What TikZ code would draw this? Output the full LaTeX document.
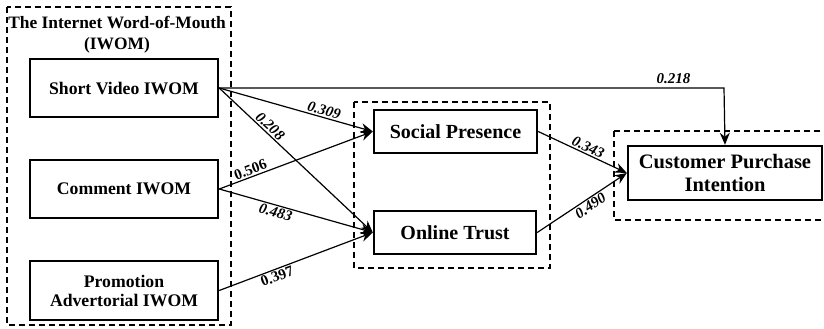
\documentclass[tikz,border=0pt]{standalone}
\usepackage{fontspec}
\setmainfont{Liberation Serif}
\usetikzlibrary{arrows.meta}

\tikzset{
    varbox/.style={draw, line width=2.4pt, font=\bfseries\fontsize{17.7}{19}\selectfont, align=center, inner sep=0pt},
    groupbox/.style={draw, dashed, line width=1.3pt, dash pattern=on 6pt off 4pt},
    path/.style={line width=1.2pt, -{Stealth[length=12pt, width=10pt]}},
    coef/.style={font=\bfseries\itshape\fontsize{15}{16}\selectfont, sloped, inner sep=1.5pt},
    coefup/.style={font=\bfseries\fontsize{15}{16}\selectfont, sloped, inner sep=1.5pt}
}

\begin{document}
\begin{tikzpicture}[x=1pt, y=-1pt]
    \useasboundingbox (0,0) rectangle (824,329);

    % Groups
    \draw[groupbox] (7,7) rectangle (231,325);
    \draw[groupbox] (354,102) rectangle (550,268);
    \draw[groupbox] (614,131) rectangle (828,220);
    \node[font=\bfseries\fontsize{17.4}{21}\selectfont, align=center] (title) at (117,35) {The Internet Word-of-Mouth\\(IWOM)};

    % Variables
    \node[varbox, minimum width=188pt, minimum height=58pt] (sv) at (124,88) {Short Video IWOM};
    \node[varbox, minimum width=188pt, minimum height=58pt] (cm) at (124,189) {Comment IWOM};
    \node[varbox, minimum width=188pt, minimum height=59pt] (pa) at (124,290.5) {Promotion\\Advertorial IWOM};
    \node[varbox, font=\bfseries\fontsize{20}{22}\selectfont, minimum width=163pt, minimum height=43pt] (sp) at (455.5,131.5) {Social Presence};
    \node[varbox, font=\bfseries\fontsize{20}{22}\selectfont, minimum width=162pt, minimum height=43pt] (ot) at (455,232.5) {Online Trust};
    \node[varbox, font=\bfseries\fontsize{20.5}{23}\selectfont, minimum width=194pt, minimum height=54pt] (cpi) at (725,173) {Customer Purchase\\Intention};
    \coordinate (corner) at (724,88);

    % Paths with coefficients
    \draw[path] (sv.east) -- node[coef, pos=0.67, above] {0.309} (sp.west);
    \draw[path] (sv.east) -- node[coef, pos=0.3, above] {0.208} (ot.west);
    \draw[path] (cm.east) -- node[coefup, pos=0.22, above] {0.506} (sp.west);
    \draw[path] (cm.east) -- node[coef, pos=0.38, below] {0.483} (ot.west);
    \draw[path] (pa.east) -- node[coefup, pos=0.36, below] {0.397} (ot.west);
    \draw[path] (sp.east) -- node[coef, pos=0.53, above] {0.343} (cpi.west);
    \draw[path] (ot.east) -- node[coef, pos=0.55, below] {0.490} (cpi.west);
    \draw[path] (sv.east) -- node[coef, pos=0.9, above=2pt] {0.218} (corner) -- (cpi.north);
\end{tikzpicture}
\end{document}
